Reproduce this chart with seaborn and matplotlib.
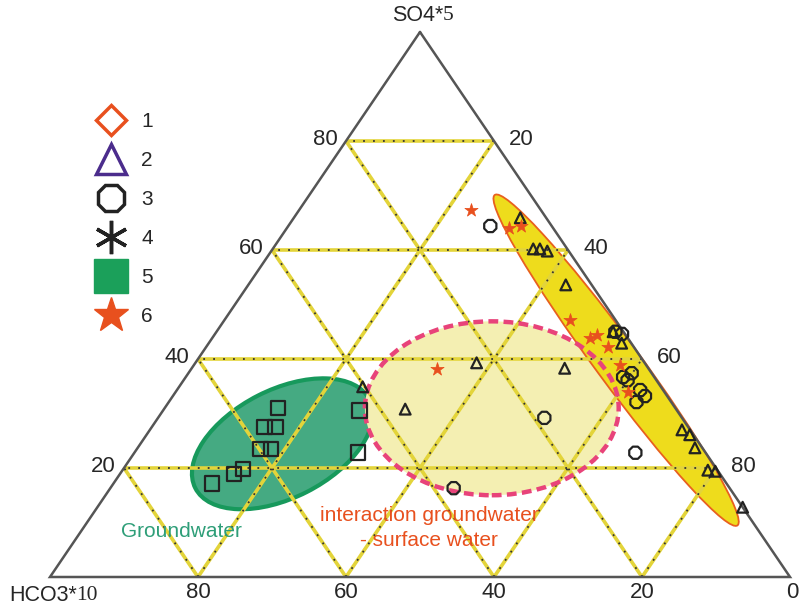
import numpy as np
import pandas as pd
import matplotlib
matplotlib.use("Agg")
import matplotlib.pyplot as plt
from matplotlib.patches import Ellipse
from matplotlib.lines import Line2D
import seaborn as sns

# ternary compositions, in percent (Cl = 100 - SO4 - HCO3)
sq_so4 = [31.0, 27.5, 27.5, 23.5, 23.5, 18.9, 19.8, 17.2, 30.5, 22.8]
sq_hco3 = [53.7, 57.3, 55.8, 59.8, 58.4, 65.7, 64.0, 69.5, 42.9, 47.0]

tri_so4 = [65.9, 60.2, 60.2, 59.8, 53.6, 45.0, 42.9, 27.0, 26.1, 23.7, 19.6, 19.4, 12.8,
           39.3, 38.3, 30.8, 34.9]
tri_hco3 = [3.5, 4.6, 3.7, 2.9, 3.5, 1.4, 1.3, 1.1, 0.5, 1.0, 1.3, 0.4, 0.0,
            22.7, 11.3, 36.6, 40.3]

circ_so4 = [64.4, 45.0, 44.6, 36.7, 37.4, 34.3, 33.2, 32.1, 36.1, 22.8, 29.2, 16.3]
circ_hco3 = [8.3, 1.1, 0.4, 4.2, 2.7, 3.1, 3.0, 4.7, 3.9, 9.5, 18.6, 37.3]

star_so4 = [67.3, 38.2, 64.0, 64.4, 47.2, 43.9, 44.4, 42.2, 38.9, 33.9]
star_hco3 = [9.5, 28.6, 6.0, 4.2, 6.1, 5.1, 3.9, 3.5, 3.5, 4.9]

grid_levels = [20, 40, 60, 80]
legend_labels = ["1", "2", "3", "4", "5", "6"]

# the printed triangle is squashed vertically
SQUASH = 545 / 740

def to_xy(so4, hco3):
    so4 = np.asarray(so4, dtype=float)
    hco3 = np.asarray(hco3, dtype=float)
    return 100 - hco3 - so4 / 2, so4 * SQUASH

frames = []
for name, s, h in [("square", sq_so4, sq_hco3), ("triangle", tri_so4, tri_hco3),
                   ("circle", circ_so4, circ_hco3), ("star", star_so4, star_hco3)]:
    x, y = to_xy(s, h)
    frames.append(pd.DataFrame({"x": x, "y": y, "group": name}))
df = pd.concat(frames, ignore_index=True)

sns.set_style("white")
plt.rcParams["font.family"] = ["Liberation Sans", "DejaVu Sans"]

RED = "#E8501E"
GRID = "#E3D43A"

fig = plt.figure(figsize=(8, 6.06), dpi=100)
ax = fig.add_axes([0, 0, 1, 1])
ax.set_xlim(-50 / 7.4, 750 / 7.4)
ax.set_ylim(-29 / 7.4, 577 / 7.4)
ax.set_aspect("equal")
ax.axis("off")

# field regions
ax.add_patch(Ellipse((31.4, 18.0), 26.4, 14.6, angle=27, fc="#45AA82",
                     ec="#17995C", lw=3, zorder=1))
ax.add_patch(Ellipse((59.7, 22.8), 34.3, 23.5, angle=0, fc="#F4EFB2",
                     ec="none", zorder=1))
ax.add_patch(Ellipse((59.7, 22.8), 34.3, 23.5, angle=0, fc="none",
                     ec="#E8437A", lw=3.2, ls=(0, (2.2, 1.2)), zorder=4))
ax.add_patch(Ellipse((76.5, 29.3), 55.4, 5.95, angle=-53.7, fc="#EEDC1C",
                     ec="#E8601E", lw=1.3, zorder=1))

# triangular grid
def seg(p, q):
    (x1, y1), (x2, y2) = to_xy(*p), to_xy(*q)
    return [x1, x2], [y1, y2]

for v in grid_levels:
    for p, q in [((v, 0), (v, 100 - v)),          # constant SO4
                 ((0, v), (100 - v, v)),          # constant HCO3
                 ((0, 100 - v), (100 - v, 0))]:   # constant Cl
        xs, ys = seg(p, q)
        ax.plot(xs, ys, color=GRID, lw=2.6, zorder=2, solid_capstyle="butt")
        ax.plot(xs, ys, color="#333333", lw=1.3, ls=(0, (1, 4.5)), zorder=2.5)

tx, ty = to_xy([100, 0, 0, 100], [0, 100, 0, 0])
ax.plot(tx, ty, color="#555555", lw=1.8, zorder=3, solid_joinstyle="miter")

# samples
sns.scatterplot(data=df[df.group == "square"], x="x", y="y", marker="s", s=110,
                fc="none", ec="#222222", lw=1.6, ax=ax, zorder=5, legend=False)
sns.scatterplot(data=df[df.group == "triangle"], x="x", y="y", marker="^", s=60,
                fc="none", ec="#222222", lw=1.6, ax=ax, zorder=5, legend=False)
sns.scatterplot(data=df[df.group == "circle"], x="x", y="y", marker="8", s=90,
                fc="none", ec="#222222", lw=1.6, ax=ax, zorder=5, legend=False)
sns.scatterplot(data=df[df.group == "star"], x="x", y="y", marker="*", s=100,
                color=RED, ec=RED, lw=0.5, ax=ax, zorder=6, legend=False)

# tick labels
for v in grid_levels:
    lx, ly = to_xy(v, 100 - v)
    ax.annotate(str(v), (lx, ly), xytext=(-6, 1), textcoords="offset points",
                ha="right", va="center", fontsize=16)
    rx, ry = to_xy(100 - v, 0)
    ax.annotate(str(v), (rx, ry), xytext=(11, 1), textcoords="offset points",
                ha="left", va="center", fontsize=16)
for v in [80, 60, 40, 20, 0]:
    bx, by = to_xy(0, v)
    ax.annotate(str(v), (bx, by), xytext=(2 if v == 0 else 0, -11.5),
                textcoords="offset points", ha="center", va="center", fontsize=16)

ax.text(53.1, 75.9, "SO4*", ha="right", va="center", fontsize=15.5)
ax.text(53.1, 75.9, "5", ha="left", va="center", fontsize=15.5, family="Liberation Serif")
ax.text(3.6, -2.45, "HCO3*", ha="right", va="center", fontsize=15.5)
ax.text(3.6, -2.45, "10", ha="left", va="center", fontsize=15.5, family="Liberation Serif")

ax.text(17.8, 6.2, "Groundwater", color="#2E9E78", ha="center", va="center", fontsize=15)
ax.text(51.2, 6.65, "interaction groundwater\n- surface water", color=RED,
        ha="center", va="center", fontsize=15, linespacing=1.4)

handles = [
    Line2D([], [], ls="", marker="D", ms=15, mfc="none", mec=RED, mew=2.5),
    Line2D([], [], ls="", marker="^", ms=22, mfc="none", mec="#4B2C8C", mew=2.5),
    Line2D([], [], ls="", marker="8", ms=21, mfc="none", mec="#222222", mew=2.5),
    Line2D([], [], ls="", marker=(6, 2, 0), ms=24, mec="#222222", mew=2.5),
    Line2D([], [], ls="", marker="s", ms=25, mfc="#1BA05A", mec="#1BA05A"),
    Line2D([], [], ls="", marker="*", ms=26, mfc=RED, mec=RED),
]
ax.legend(handles, legend_labels, loc="upper left", bbox_to_anchor=(86 / 800, 1 - 102 / 606),
          frameon=False, fontsize=15, labelspacing=0.96, handletextpad=0.75,
          handlelength=1.4, borderpad=0)

fig.savefig("out.png", dpi=100)
